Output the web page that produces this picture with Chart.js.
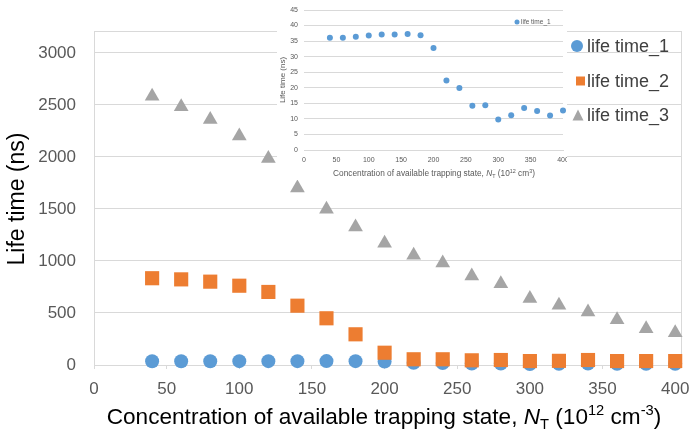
<!DOCTYPE html>
<html><head><meta charset="utf-8">
<script src="https://cdn.jsdelivr.net/npm/chart.js@4/dist/chart.umd.min.js"></script>
<style>
body{margin:0;background:#fff;overflow:hidden}
#main{position:absolute;left:0;top:0}
#insetWrap{position:absolute;left:277px;top:0;width:290px;height:180px;background:#fff}
</style>
</head><body>
<canvas id="main" width="691" height="431"></canvas>
<div id="insetWrap"><canvas id="inset" width="290" height="180"></canvas></div>
<script>
const concentration = [40,60,80,100,120,140,160,180,200,220,240,260,280,300,320,340,360,380,400];
const lifeTime1 = [36.1,36.1,36.4,36.8,37.1,37.1,37.3,36.9,32.8,22.3,19.9,14.2,14.4,9.8,11.2,13.5,12.5,11.1,12.7];
const lifeTime2 = [834,823,801,762,702,570,449,295,118,55,55,45,48,38,40,48,38,38,38];
const lifeTime3 = [2584,2481,2359,2202,1984,1702,1497,1327,1171,1055,981,856,782,638,574,510,436,349,311];
const seriesNames = ['life time_1','life time_2','life time_3'];
const mainXTicks = [0,50,100,150,200,250,300,350,400];
const mainYTicks = [0,500,1000,1500,2000,2500,3000];
const insetYTicks = [0,5,10,15,20,25,30,35,40,45];

const BLUE='#5B9BD5', ORANGE='#ED7D31', GRAY='#A5A5A5', GRID='#D9D9D9', TICK='#595959';
const FONT='"Liberation Sans", Arial, sans-serif';
const pts = arr => concentration.map((x,i)=>({x, y:arr[i]}));

function richText(ctx, parts, cx, cy, base){
  const small = Math.round(base*0.65*10)/10;
  const fontOf = s => (s==='i'?'italic ':'') + ((s==='sub'||s==='sup')?small:base) + 'px ' + FONT;
  let total=0;
  const widths = parts.map(([t,s])=>{ ctx.font = fontOf(s); const w = ctx.measureText(t).width; total+=w; return w; });
  let x = cx - total/2;
  ctx.textBaseline='alphabetic'; ctx.textAlign='left';
  parts.forEach(([t,s],i)=>{
    ctx.font = fontOf(s);
    const dy = s==='sub'? base*0.2 : s==='sup' ? -base*0.38 : 0;
    ctx.fillText(t, x, cy+dy);
    x += widths[i];
  });
}

function drawMarker(ctx, style, x, y, r, color){
  ctx.fillStyle=color; ctx.beginPath();
  if(style==='circle'){ ctx.arc(x,y,r,0,Math.PI*2); }
  else if(style==='rect'){ ctx.rect(x-r,y-r,2*r,2*r); }
  else { ctx.moveTo(x,y-r); ctx.lineTo(x+r,y+r); ctx.lineTo(x-r,y+r); ctx.closePath(); }
  ctx.fill();
}

const mainDecor = {
  id:'mainDecor',
  beforeDatasetsDraw(chart){
    const {ctx, chartArea:a} = chart;
    ctx.save(); ctx.strokeStyle=GRID; ctx.lineWidth=1;
    ctx.strokeRect(Math.round(a.left)+0.5, Math.round(a.top)+0.5, Math.round(a.right-a.left), Math.round(a.bottom-a.top));
    ctx.restore();
  },
  afterDraw(chart){
    const {ctx} = chart;
    ctx.save();
    ctx.fillStyle='#000';
    richText(ctx, [['Concentration of available trapping state, ','n'],['N','i'],['T','sub'],[' (10','n'],['12','sup'],[' cm','n'],['-3','sup'],[')','n']], 384, 424, 22.6);
    ctx.translate(24, 199); ctx.rotate(-Math.PI/2);
    ctx.font='23px '+FONT; ctx.textAlign='center'; ctx.textBaseline='alphabetic';
    ctx.fillText('Life time (ns)',0,0);
    ctx.restore();
    ctx.save();
    const items=[['circle',BLUE,577,46,6],['rect',ORANGE,580.5,81,4.5],['tri',GRAY,578,115,5.5]];
    items.forEach((it,i)=>{
      drawMarker(ctx,it[0],it[2],it[3],it[4],it[1]);
      ctx.fillStyle='#404040'; ctx.font='18px '+FONT; ctx.textAlign='left'; ctx.textBaseline='middle';
      ctx.fillText(seriesNames[i],587,it[3]+1);
    });
    ctx.restore();
  }
};

new Chart(document.getElementById('main'), {
  type:'scatter',
  data:{datasets:[
    {label:seriesNames[0], data:pts(lifeTime1), pointStyle:'circle', pointRadius:7, backgroundColor:BLUE, borderWidth:0, clip:false, order:3},
    {label:seriesNames[1], data:pts(lifeTime2), pointStyle:'rect', pointRadius:10, backgroundColor:ORANGE, borderWidth:0, clip:false, order:2},
    {label:seriesNames[2], data:pts(lifeTime3), pointStyle:'triangle', pointRadius:8.5, backgroundColor:GRAY, borderWidth:0, clip:false, order:1}
  ]},
  options:{
    responsive:false, animation:false, devicePixelRatio:1,
    layout:{padding:{top:31,right:9,left:0,bottom:0}},
    plugins:{legend:{display:false}, tooltip:{enabled:false}},
    scales:{
      x:{type:'linear', min:0, max:404,
        afterBuildTicks(s){ s.ticks = mainXTicks.map(v=>({value:v})); },
        afterFit(s){ s.height=66; s.paddingLeft=0; s.paddingRight=0; },
        grid:{drawOnChartArea:false, drawTicks:true, tickLength:4, color:GRID},
        border:{color:GRID},
        ticks:{font:{family:FONT,size:17}, color:TICK, padding:10, maxRotation:0, callback:v=>String(v)}
      },
      y:{type:'linear', min:0, max:3210,
        afterBuildTicks(s){ s.ticks = mainYTicks.map(v=>({value:v})); },
        afterFit(s){ s.width=94; s.paddingTop=0; s.paddingBottom=0; },
        grid:{color:GRID, drawTicks:false},
        border:{color:GRID},
        ticks:{font:{family:FONT,size:17}, color:TICK, padding:18, callback:v=>String(v)}
      }
    }
  },
  plugins:[mainDecor]
});

const insetDecor = {
  id:'insetDecor',
  afterDraw(chart){
    const {ctx} = chart;
    ctx.save(); ctx.fillStyle=TICK;
    richText(ctx, [['Concentration of available trapping state, ','n'],['N','i'],['T','sub'],[' (10','n'],['12','sup'],[' cm','n'],['3','sup'],[')','n']], 157, 176, 8.3);
    ctx.translate(8, 80); ctx.rotate(-Math.PI/2);
    ctx.font='8px '+FONT; ctx.textAlign='center'; ctx.textBaseline='alphabetic';
    ctx.fillText('Life time (ns)',0,0);
    ctx.restore();
    ctx.save();
    drawMarker(ctx,'circle',240,22,2.5,BLUE);
    ctx.fillStyle=TICK; ctx.font='6.5px '+FONT; ctx.textAlign='left'; ctx.textBaseline='middle';
    ctx.fillText(seriesNames[0],244,22);
    ctx.restore();
  }
};

new Chart(document.getElementById('inset'), {
  type:'scatter',
  data:{datasets:[
    {label:seriesNames[0], data:pts(lifeTime1), pointStyle:'circle', pointRadius:3, backgroundColor:BLUE, borderWidth:0, clip:false}
  ]},
  options:{
    responsive:false, animation:false, devicePixelRatio:1,
    layout:{padding:{top:10,right:4,left:0,bottom:0}},
    plugins:{legend:{display:false}, tooltip:{enabled:false}},
    scales:{
      x:{type:'linear', min:0, max:400,
        afterBuildTicks(s){ s.ticks = mainXTicks.map(v=>({value:v})); },
        afterFit(s){ s.height=30; s.paddingLeft=0; s.paddingRight=0; },
        grid:{drawOnChartArea:false, drawTicks:false},
        border:{color:GRID},
        ticks:{font:{family:FONT,size:7}, color:TICK, padding:6, maxRotation:0}
      },
      y:{type:'linear', min:0, max:45,
        afterBuildTicks(s){ s.ticks = insetYTicks.map(v=>({value:v})); },
        afterFit(s){ s.width=27; s.paddingTop=0; s.paddingBottom=0; },
        grid:{color:GRID, drawTicks:false},
        border:{display:false},
        ticks:{font:{family:FONT,size:7}, color:TICK, padding:6}
      }
    }
  },
  plugins:[insetDecor]
});
</script>
</body></html>
